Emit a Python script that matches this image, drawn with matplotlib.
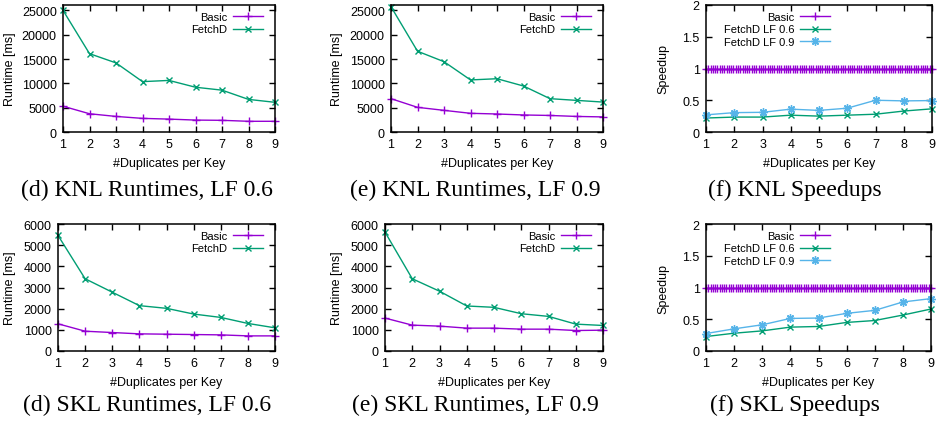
import numpy as np
import matplotlib
matplotlib.use("Agg")
import matplotlib.pyplot as plt
import matplotlib.ticker as mticker

# --- Data ---
dups = [1, 2, 3, 4, 5, 6, 7, 8, 9]

# KNL runtimes [ms]
knl_basic_06 = [5300, 3750, 3200, 2800, 2650, 2450, 2400, 2200, 2200]
knl_fetchd_06 = [25000, 16100, 14200, 10350, 10600, 9200, 8600, 6700, 6100]
knl_basic_09 = [6850, 5070, 4450, 3840, 3700, 3500, 3400, 3200, 3100]
knl_fetchd_09 = [25750, 16600, 14450, 10700, 10950, 9450, 6850, 6500, 6150]

# KNL speedups
knl_speed_06 = [0.22, 0.235, 0.235, 0.265, 0.25, 0.265, 0.28, 0.33, 0.365]
knl_speed_09 = [0.27, 0.305, 0.31, 0.36, 0.34, 0.375, 0.5, 0.49, 0.495]

# SKL runtimes [ms]
skl_basic_06 = [1285, 935, 873, 810, 794, 778, 762, 714, 714]
skl_fetchd_06 = [5460, 3413, 2778, 2143, 2016, 1746, 1587, 1302, 1095]
skl_basic_09 = [1555, 1222, 1175, 1080, 1080, 1032, 1032, 968, 984]
skl_fetchd_09 = [5619, 3413, 2825, 2127, 2063, 1762, 1635, 1270, 1206]

# SKL speedups
skl_speed_06 = [0.228, 0.28, 0.317, 0.376, 0.386, 0.45, 0.48, 0.566, 0.661]
skl_speed_09 = [0.275, 0.349, 0.413, 0.513, 0.519, 0.593, 0.64, 0.772, 0.825]

# Basic speedup is 1 by definition; gnuplot drew it as a sampled function
BASIC_SPEEDUP = 1.0
BASIC_SAMPLES = 100

captions = [
    "(d) KNL Runtimes, LF 0.6", "(e) KNL Runtimes, LF 0.9", "(f) KNL Speedups",
    "(d) SKL Runtimes, LF 0.6", "(e) SKL Runtimes, LF 0.9", "(f) SKL Speedups",
]

# --- Style ---
PURPLE = "#9400d3"
GREEN = "#009e73"
BLUE = "#56b4e9"
SANS = "Liberation Sans"
SERIF = "Liberation Serif"
W, H = 940, 431

fig = plt.figure(figsize=(W / 100, H / 100), dpi=100)

# axes boxes in pixels: left, top, right, bottom
boxes = [
    (63, 6, 275, 133), (391, 6, 603, 133), (706, 6, 932, 133),
    (58, 225, 275, 352), (385, 225, 603, 352), (706, 225, 931, 352),
]
# right edge (in pixels) of the rotated y label
ylabel_x = [16, 343, 669, 16, 343, 669]
caption_pos = [(147, 190), (475, 190), (795, 190),
               (147, 405), (475, 405), (795, 405)]


def make_axes(i):
    l, t, r, b = boxes[i]
    ax = fig.add_axes([l / W, (H - b) / H, (r - l) / W, (b - t) / H])
    ax.set_xlim(1, 9)
    ax.set_xticks(dups)
    ax.tick_params(direction="in", top=True, right=True, length=4,
                   width=1, labelsize=9, pad=4.5)
    for lab in ax.get_xticklabels() + ax.get_yticklabels():
        lab.set_fontfamily(SANS)
    for sp in ax.spines.values():
        sp.set_linewidth(1.1)
    ax.set_xlabel("#Duplicates per Key", family=SANS, fontsize=9, labelpad=5)
    ax.yaxis.set_label_coords((ylabel_x[i] - l) / (r - l), 0.5)
    return ax


def add_legend(ax, i, right_px):
    l, t, r, b = boxes[i]
    ax.legend(loc="upper right", bbox_to_anchor=((right_px - l) / (r - l), 1 - 7 / (b - t)),
              frameon=False, markerfirst=False, prop={"family": SANS, "size": 8},
              handlelength=2.7, handletextpad=0.5, labelspacing=0.22,
              borderpad=0, borderaxespad=0)


def runtime_panel(i, basic, fetchd, ymax, step):
    ax = make_axes(i)
    ax.plot(dups, basic, color=PURPLE, marker="+", markersize=5.5, lw=1.0,
            label="Basic", clip_on=False)
    ax.plot(dups, fetchd, color=GREEN, marker="x", markersize=5, lw=1.0,
            label="FetchD", clip_on=False)
    ax.set_ylim(0, ymax)
    ax.set_yticks(np.arange(0, ymax + 1, step))
    ax.set_ylabel("Runtime [ms]", family=SANS, fontsize=9)
    l, t, r, b = boxes[i]
    add_legend(ax, i, r - 12)


def speedup_panel(i, s06, s09):
    ax = make_axes(i)
    xs = np.linspace(1, 9, BASIC_SAMPLES)
    ax.plot(xs, np.full(BASIC_SAMPLES, BASIC_SPEEDUP), color=PURPLE, marker="+",
            markersize=5.5, lw=1.0, label="Basic", clip_on=False)
    ax.plot(dups, s06, color=GREEN, marker="x", markersize=5, lw=1.0,
            label="FetchD LF 0.6", clip_on=False)
    ax.plot(dups, s09, color=BLUE, marker=(8, 2, 0), markersize=6, lw=1.0,
            label="FetchD LF 0.9", clip_on=False)
    ax.set_ylim(0, 2)
    ax.set_yticks([0, 0.5, 1, 1.5, 2])
    ax.yaxis.set_major_formatter(mticker.FormatStrFormatter("%g"))
    ax.set_ylabel("Speedup", family=SANS, fontsize=9)
    add_legend(ax, i, 830)


runtime_panel(0, knl_basic_06, knl_fetchd_06, 26100, 5000)
runtime_panel(1, knl_basic_09, knl_fetchd_09, 26100, 5000)
speedup_panel(2, knl_speed_06, knl_speed_09)
runtime_panel(3, skl_basic_06, skl_fetchd_06, 6000, 1000)
runtime_panel(4, skl_basic_09, skl_fetchd_09, 6000, 1000)
speedup_panel(5, skl_speed_06, skl_speed_09)

for (cx, cy), txt in zip(caption_pos, captions):
    fig.text(cx / W, 1 - cy / H, txt, ha="center", va="center",
             family=SERIF, fontsize=17)

fig.savefig("out.png", dpi=100)
